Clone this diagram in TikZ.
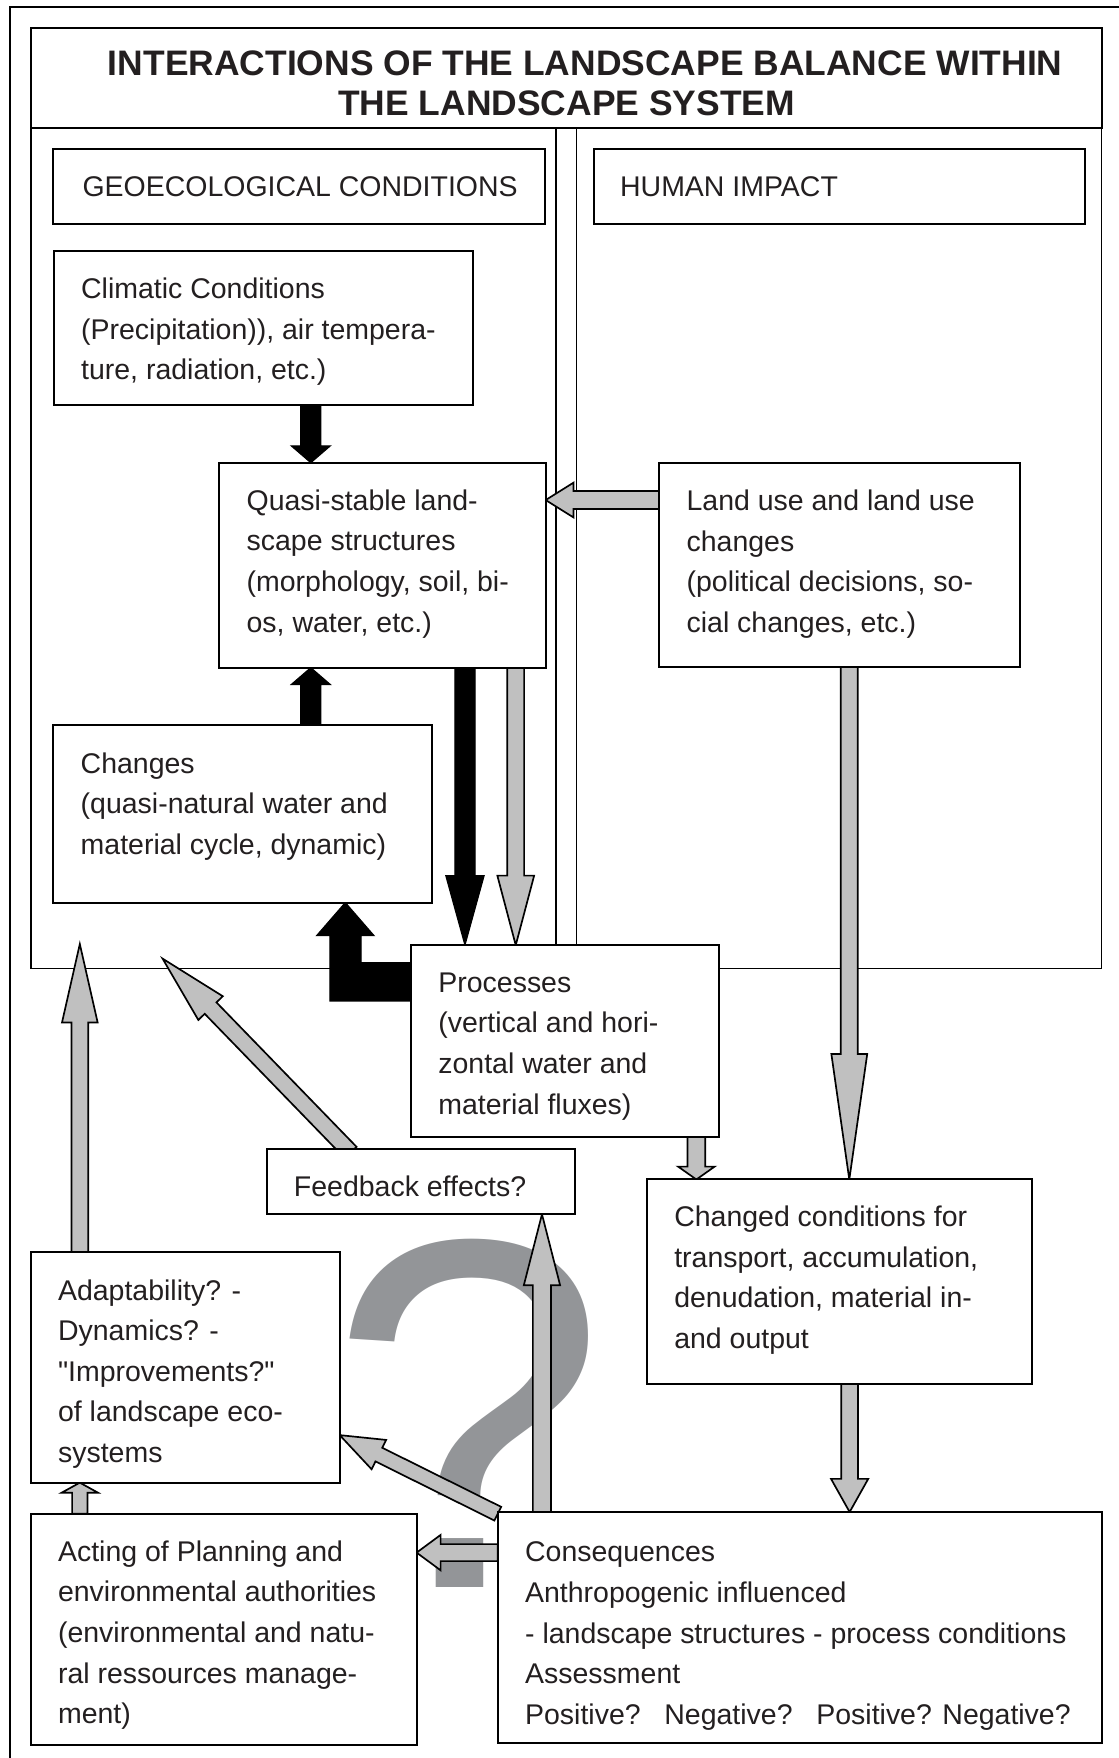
\documentclass[tikz,border=0pt]{standalone}
\usepackage{fontspec}
\setmainfont{Liberation Sans}
\usetikzlibrary{calc,fit,backgrounds}

\definecolor{ink}{HTML}{231F20}
\definecolor{arrowgrey}{HTML}{C0C0C0}
\definecolor{qgrey}{HTML}{939598}

% several lines of left-aligned text, baseline on the first line
\newcommand\boxlines[1]{\begin{tabular}[t]{@{}l@{}}#1\end{tabular}}

% block arrow: [style]{from}{to}{shaft half width}{head half width}{head length}
\newcommand\fatarrow[6][greyarrow]{%
  \coordinate (fa-h) at ($(#3)!#6!(#2)$);
  \draw[#1] ($(#2)!#4!90:(#3)$) -- ($(fa-h)!#4!90:(#3)$) -- ($(fa-h)!#5!90:(#3)$) -- (#3)
    -- ($(fa-h)!#5!-90:(#3)$) -- ($(fa-h)!#4!-90:(#3)$) -- ($(#2)!#4!-90:(#3)$) -- cycle;}

\begin{document}
\begin{tikzpicture}[x=0.5pt,y=-0.5pt,
  textbox/.style={draw=black, line width=0.9pt, fill=white, inner sep=0pt, outer sep=0pt},
  panelbox/.style={draw=black, line width=0.7pt, inner sep=0pt, outer sep=0pt},
  outerline/.style={draw=black, line width=0.7pt},
  boxtext/.style={anchor=base west, inner sep=0pt, text=ink, font=\fontsize{12.7}{18.1}\selectfont},
  titletext/.style={anchor=base, inner sep=0pt, text=ink, font=\fontsize{15.8}{18}\selectfont\bfseries},
  greyarrow/.style={draw=black, fill=arrowgrey, line width=0.75pt, line join=miter},
  blackarrow/.style={draw=black, fill=black, line width=0.5pt, line join=miter},
  qmarkstyle/.style={anchor=base west, inner sep=0pt, text=qgrey, font=\fontsize{222.5}{222.5}\selectfont}]

\useasboundingbox (0,0) rectangle (998,1568);

% ---- boxes ----
\node[textbox, fit={(27.4,24.7) (982.6,113.9)}] (title) {};
\node[textbox, fit={(47.7,133) (485.7,200)}] (geo) {};
\node[textbox, fit={(529.7,133) (967.7,200)}] (hum) {};
\node[textbox, fit={(48,224) (422,361)}] (clim) {};
\node[textbox, fit={(195.6,412.7) (486.7,595.5)}] (qs) {};
\node[textbox, fit={(588,413) (909.5,595)}] (land) {};
\node[textbox, fit={(47.6,646.6) (385.5,805.6)}] (chg) {};
\node[textbox, fit={(366.6,843) (641.6,1014)}] (proc) {};
\node[textbox, fit={(237.8,1025) (512.8,1083)}] (fb) {};
\node[textbox, fit={(577,1052) (920.5,1234.5)}] (cc) {};
\node[textbox, fit={(27.4,1117) (303,1322.4)}] (adapt) {};
\node[textbox, fit={(27.4,1350) (371.6,1556)}] (act) {};
\node[textbox, fit={(444,1348.6) (983.3,1554.5)}] (cons) {};

% ---- texts ----
\node[titletext] (title-a) at ($(title.north west)+(494.6,42.3)$) {INTERACTIONS OF THE LANDSCAPE BALANCE WITHIN};
\node[titletext] (title-b) at ($(title.north west)+(477.9,78.3)$) {THE LANDSCAPE SYSTEM};
\node[boxtext] (geo-t) at ($(geo.north west)+(25.5,42.5)$) {GEOECOLOGICAL CONDITIONS};
\node[boxtext] (hum-t) at ($(hum.north west)+(23,42.5)$) {HUMAN IMPACT};
\node[boxtext] (clim-t) at ($(clim.north west)+(24,42.5)$) {\boxlines{Climatic Conditions\\(Precipitation)), air tempera-\\ture, radiation, etc.)}};
\node[boxtext] (qs-t) at ($(qs.north west)+(24,42.5)$) {\boxlines{Quasi-stable land-\\scape structures\\(morphology, soil, bi-\\os, water, etc.)}};
\node[boxtext] (land-t) at ($(land.north west)+(24,42.5)$) {\boxlines{Land use and land use\\changes\\(political decisions, so-\\cial changes, etc.)}};
\node[boxtext] (chg-t) at ($(chg.north west)+(24,43)$) {\boxlines{Changes\\(quasi-natural water and\\material cycle, dynamic)}};
\node[boxtext] (proc-t) at ($(proc.north west)+(24,42)$) {\boxlines{Processes\\(vertical and hori-\\zontal water and\\material fluxes)}};
\node[boxtext] (fb-t) at ($(fb.north west)+(24,42.5)$) {Feedback effects?};
\node[boxtext] (cc-t) at ($(cc.north west)+(24,42)$) {\boxlines{Changed conditions for\\transport, accumulation,\\denudation, material in-\\and output}};
\node[boxtext] (adapt-t) at ($(adapt.north west)+(24,42.5)$) {\boxlines{Adaptability? -\\Dynamics? -\\\textquotedbl Improvements?\textquotedbl\\of landscape eco-\\systems}};
\node[boxtext] (act-t) at ($(act.north west)+(24,42.5)$) {\boxlines{Acting of Planning and\\environmental authorities\\(environmental and natu-\\ral ressources manage-\\ment)}};
\node[boxtext] (cons-t) at ($(cons.north west)+(24,44.5)$) {\boxlines{Consequences\\Anthropogenic influenced\\- landscape structures - process conditions\\Assessment\\Positive?\ \ \ Negative?\ \ \ Positive? Negative?}};

\begin{pgfonlayer}{background}
  % outer frame and the two panels
  \draw[outerline] (998,6) -- (9,6) -- (9,1568);
  \node[panelbox, fit={(27.4,113.9) (496,864)}] (geopanel) {};
  \node[panelbox, fit={(514.3,113.9) (982.6,864)}] (humpanel) {};

  % large question mark
  \node[qmarkstyle] (qm) at (292.3,1416) {\makebox[0pt][l]{\smash{?}}};

  % arrow end points
  \coordinate (a1s) at ($(clim.south west)+(229.2,0)$);
  \coordinate (a1e) at ($(qs.north west)+(81.6,0)$);
  \coordinate (a2s) at ($(chg.north west)+(229.6,0)$);
  \coordinate (a2e) at ($(qs.south west)+(81.6,0)$);
  \coordinate (a3s) at ($(qs.south west)+(219.1,0)$);
  \coordinate (a3e) at ($(proc.north west)+(48.1,0)$);
  \coordinate (a4s) at ($(qs.south west)+(264.4,0)$);
  \coordinate (a4e) at ($(proc.north west)+(93.4,0)$);
  \coordinate (a5s) at ($(land.north west)+(0,33)$);
  \coordinate (a5e) at (a5s -| qs.east);
  \coordinate (a6s) at ($(land.south west)+(169.5,0)$);
  \coordinate (a6e) at ($(cc.north west)+(180.5,0)$);
  \coordinate (a8s) at ($(fb.north west)+(75,3)$);
  \coordinate (a8e) at ($(fb.north west)+(-92.8,-170)$);
  \coordinate (a9s) at ($(adapt.north west)+(43.8,0)$);
  \coordinate (a9e) at ($(adapt.north west)+(43.8,-275)$);
  \coordinate (a10s) at ($(proc.south west)+(254.5,0)$);
  \coordinate (a10e) at ($(cc.north west)+(44.1,0)$);
  \coordinate (a11s) at ($(cons.north west)+(39.4,0)$);
  \coordinate (a11e) at ($(fb.south west)+(245.6,0)$);
  \coordinate (a12s) at ($(cons.north west)+(0,1.5)$);
  \coordinate (a12e) at ($(adapt.north east)+(0,163)$);
  \coordinate (a13s) at ($(cons.north west)+(0,36.2)$);
  \coordinate (a13e) at (a13s -| act.east);
  \coordinate (a14s) at ($(act.north west)+(43.8,0)$);
  \coordinate (a14e) at ($(adapt.south west)+(43.8,0)$);
  \coordinate (a15s) at ($(cc.south west)+(180.8,0)$);
  \coordinate (a15e) at ($(cons.north west)+(313.8,0)$);

  % black arrows
  \fatarrow[blackarrow]{a1s}{a1e}{4.5pt}{8.7pt}{7.5pt}
  \fatarrow[blackarrow]{a2s}{a2e}{4.5pt}{8.7pt}{7.5pt}
  \fatarrow[blackarrow]{a3s}{a3e}{4.5pt}{8.55pt}{31pt}
  \draw[blackarrow] ($(proc.north west)+(0,15.6)$) -- ++(-44.6,0) -- ++(0,-24.1) -- ++(11.6,0)
    -- ++(-25.6,-29.5) -- ++(-25.6,29.5) -- ++(11.9,0) -- ++(0,58.3) -- ++(72.3,0) -- cycle;

  % grey arrows
  \fatarrow{a4s}{a4e}{3.75pt}{8.2pt}{31pt}
  \fatarrow{a5s}{a5e}{4pt}{7.75pt}{12.4pt}
  \fatarrow{a6s}{a6e}{3.8pt}{8pt}{56pt}
  \fatarrow{a8s}{a8e}{3.65pt}{7.6pt}{30.75pt}
  \fatarrow{a9s}{a9e}{3.75pt}{7.95pt}{35pt}
  \fatarrow{a10s}{a10e}{3.95pt}{8.15pt}{5.75pt}
  \fatarrow{a11s}{a11e}{4.05pt}{8.1pt}{31.7pt}
  \fatarrow{a12s}{a12e}{3.4pt}{7.3pt}{19.5pt}
  \fatarrow{a13s}{a13e}{3.8pt}{7.9pt}{10.7pt}
  \fatarrow{a14s}{a14e}{3.45pt}{8.15pt}{4.5pt}
  \fatarrow{a15s}{a15e}{3.75pt}{8.3pt}{14.8pt}
\end{pgfonlayer}
\end{tikzpicture}
\end{document}
